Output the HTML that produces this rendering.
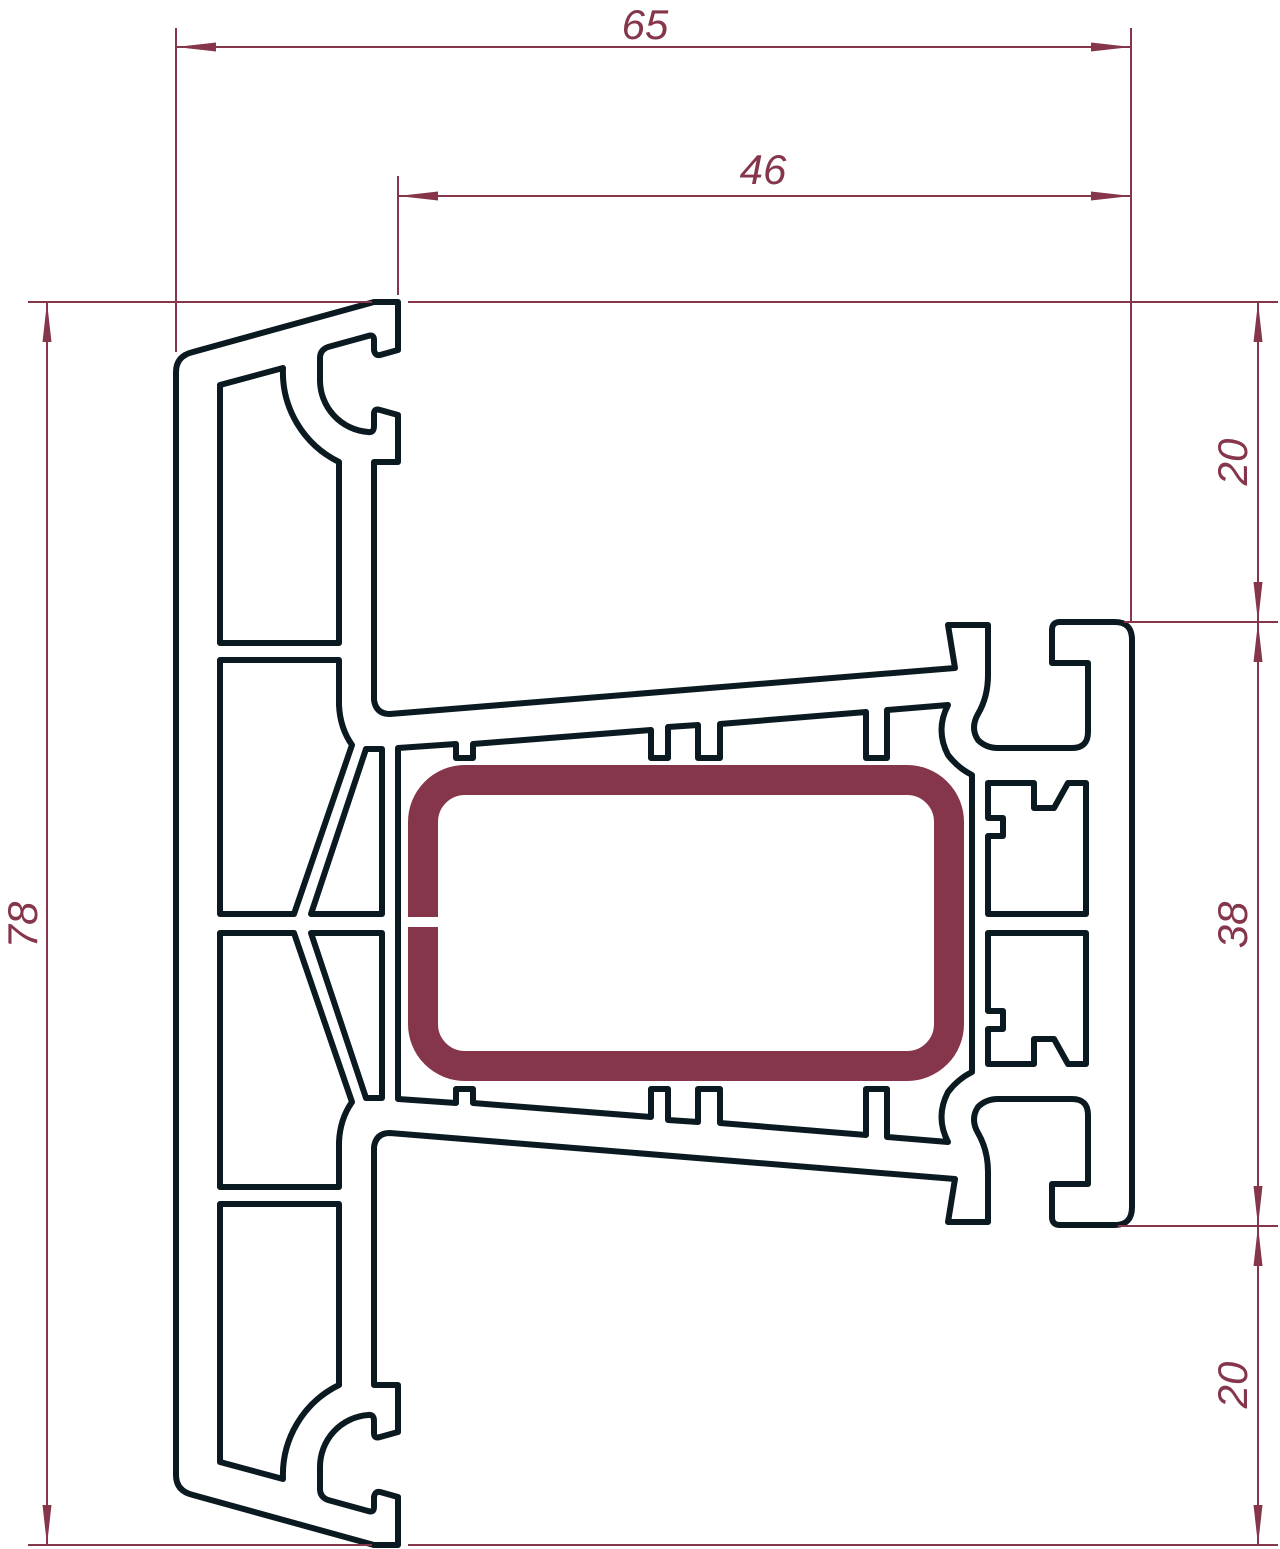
<!DOCTYPE html>
<html><head><meta charset="utf-8"><style>
html,body{margin:0;padding:0;background:#fff}
svg{display:block}
text{font-family:"Liberation Sans",sans-serif;font-style:italic;fill:#85364a;font-size:42px}
</style></head><body>
<svg width="1280" height="1549" viewBox="0 0 1280 1549" xmlns="http://www.w3.org/2000/svg">
<defs>
<marker id="a" viewBox="0 0 40 10" refX="40" refY="5" markerWidth="40" markerHeight="10" markerUnits="userSpaceOnUse" orient="auto-start-reverse">
<path d="M40,5 L0,0.5 L0,9.5 Z" fill="#85364a"/>
</marker>
<g id="half" fill="none" stroke="#0b1a20" stroke-width="6" stroke-linejoin="round" stroke-linecap="round">
<path d="M176,923 L176,372 Q176,356 193,352 L374,302 L398,302 L398,350 L380,355 Q375,356 374,350 L374,340 Q374,334 368,336 L328,347 Q320,350 320,358 L320,380 A52,52 0 0 0 368,432 Q374,433 374,426 L374,414 Q374,408 380,410 L398,415 L398,462 L374,462 L374,700 Q376,714 390,714 L955,668 L948,625 L988,625 L988,675 Q988,697 978,714 Q970,728 978,740 Q986,748 998,748 L1072,748 Q1088,748 1088,732 L1088,663 L1052,663 L1052,630 Q1052,622 1060,622 L1115,622 Q1132,622 1132,640 L1132,923"/>
<path d="M220,385 L283,368 A100,100 0 0 0 339,462 L339,643 L220,643 Z"/>
<path d="M220,660 L339,660 L339,705 Q340,728 352,745 L294,914 L220,914 Z"/>
<path d="M366,749 L382,749 L382,914 L311,914 Z"/>
<path d="M398,923 L398,748 L456,744 L456,758 L473,758 L473,744 L651,730 L651,758 L668,758 L668,727 L698,725 L698,758 L720,758 L720,724 L866,712 L866,758 L887,758 L887,710 L948,705 Q935,730 948,755 Q958,768 972,775 L972,923"/>
<path d="M988,783 L1034,783 L1034,808 L1054,808 L1068,783 L1086,783 L1086,914 L988,914 L988,836 L1003,836 L1003,818 L988,818 Z"/>
</g>
</defs>
<use href="#half"/>
<use href="#half" transform="translate(0,1847) scale(1,-1)"/>
<rect x="423" y="780" width="526" height="286" rx="42" fill="none" stroke="#85364a" stroke-width="30"/>
<rect x="404" y="917" width="38" height="10" fill="#fff"/>
<g stroke="#85364a" stroke-width="2" fill="none">
<line x1="176" y1="28" x2="176" y2="352"/>
<line x1="398" y1="176" x2="398" y2="295"/>
<line x1="1131" y1="28" x2="1131" y2="622"/>
<line x1="176" y1="47" x2="1131" y2="47" marker-start="url(#a)" marker-end="url(#a)"/>
<line x1="398" y1="196" x2="1131" y2="196" marker-start="url(#a)" marker-end="url(#a)"/>
<line x1="28" y1="302" x2="372" y2="302"/>
<line x1="408" y1="302" x2="1278" y2="302"/>
<line x1="28" y1="1545" x2="372" y2="1545"/>
<line x1="408" y1="1545" x2="1278" y2="1545"/>
<line x1="1124" y1="622" x2="1278" y2="622"/>
<line x1="1118" y1="1226" x2="1278" y2="1226"/>
<line x1="47" y1="302" x2="47" y2="1545" marker-start="url(#a)" marker-end="url(#a)"/>
<line x1="1258" y1="302" x2="1258" y2="622" marker-start="url(#a)" marker-end="url(#a)"/>
<line x1="1258" y1="622" x2="1258" y2="1226" marker-start="url(#a)" marker-end="url(#a)"/>
<line x1="1258" y1="1226" x2="1258" y2="1545" marker-start="url(#a)" marker-end="url(#a)"/>
</g>
<text x="645" y="39" text-anchor="middle">65</text>
<text x="763" y="184" text-anchor="middle" font-size="46">46</text>
<text transform="translate(37,925) rotate(-90)" text-anchor="middle" font-size="46">78</text>
<text transform="translate(1247,462) rotate(-90)" text-anchor="middle" font-size="46">20</text>
<text transform="translate(1247,925) rotate(-90)" text-anchor="middle" font-size="46">38</text>
<text transform="translate(1247,1385) rotate(-90)" text-anchor="middle" font-size="46">20</text>
</svg>
</body></html>
